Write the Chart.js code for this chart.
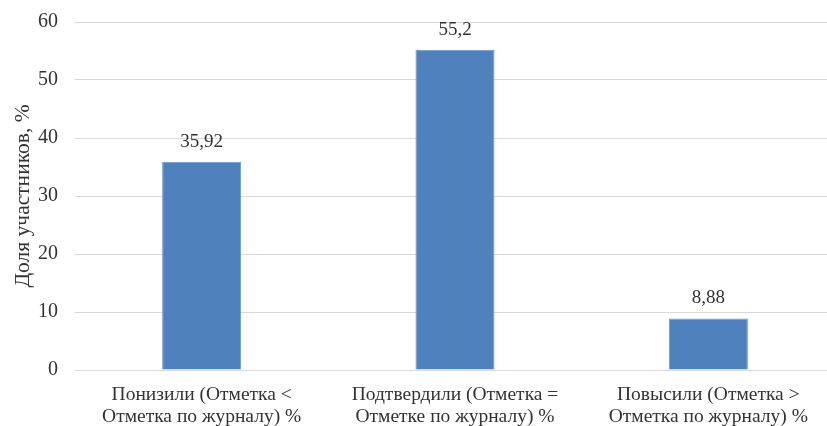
<!DOCTYPE html>
<html><head><meta charset="utf-8">
<script src="https://cdn.jsdelivr.net/npm/chart.js@4/dist/chart.umd.min.js"></script>
<style>html,body{margin:0;padding:0;background:#fff;overflow:hidden;width:827px;height:426px}</style>
</head><body>
<canvas id="c" width="835" height="426" style="width:835px;height:426px;display:block"></canvas>
<script>
const categories = [
  ["Понизили (Отметка <", "Отметка по журналу) %"],
  ["Подтвердили (Отметка =", "Отметке по журналу) %"],
  ["Повысили (Отметка >", "Отметка по журналу) %"]
];
const values = [35.92, 55.2, 8.88];
const yTicks = [0, 10, 20, 30, 40, 50, 60];
const yTitle = "Доля участников, %";

const FONT = '"Liberation Serif", "Times New Roman", "DejaVu Serif", serif';
const TXT = '#333333';

const labelPlugin = {
  id: 'valLabels',
  afterDatasetsDraw(chart) {
    const ctx = chart.ctx;
    const meta = chart.getDatasetMeta(0);
    ctx.save();
    ctx.font = '19px ' + FONT;
    ctx.fillStyle = TXT;
    ctx.textAlign = 'center';
    ctx.textBaseline = 'middle';
    meta.data.forEach((bar, i) => {
      ctx.fillText(String(values[i]).replace('.', ','), bar.x, bar.y - 20);
    });
    ctx.restore();
  }
};

function draw() {
  new Chart(document.getElementById('c'), {
    type: 'bar',
    data: {
      labels: categories,
      datasets: [{
        data: values,
        backgroundColor: '#4F81BD',
        borderColor: '#6A95C8',
        borderWidth: 1,
        barPercentage: 0.312,
        categoryPercentage: 1
      }]
    },
    options: {
      responsive: false,
      animation: false,
      layout: { padding: { top: 22, left: 0, right: 0, bottom: 0 } },
      plugins: { legend: { display: false }, tooltip: { enabled: false } },
      scales: {
        x: {
          grid: { display: false, drawTicks: false },
          border: { display: false },
          ticks: { color: TXT, font: { family: FONT, size: 19.5, lineHeight: 1.12 }, maxRotation: 0, padding: 14 },
          afterFit(s) { s.height = 56; s.paddingLeft = 0; s.paddingRight = 0; }
        },
        y: {
          min: 0, max: 60,
          afterBuildTicks(s) { s.ticks = yTicks.map(v => ({ value: v })); },
          grid: { color: '#D9D9D9', lineWidth: 1, drawTicks: false },
          border: { display: false },
          ticks: { color: TXT, font: { family: FONT, size: 20 }, padding: 17 },
          title: { display: true, text: yTitle, color: TXT, font: { family: FONT, size: 21.5 }, padding: { top: 10, bottom: 0 } },
          afterFit(s) { s.width = 75; s.paddingTop = 0; s.paddingBottom = 0; }
        }
      }
    },
    plugins: [labelPlugin]
  });
}
document.fonts.load('20px "Liberation Serif"', 'Доля 0123').then(draw, draw);
</script>
</body></html>
